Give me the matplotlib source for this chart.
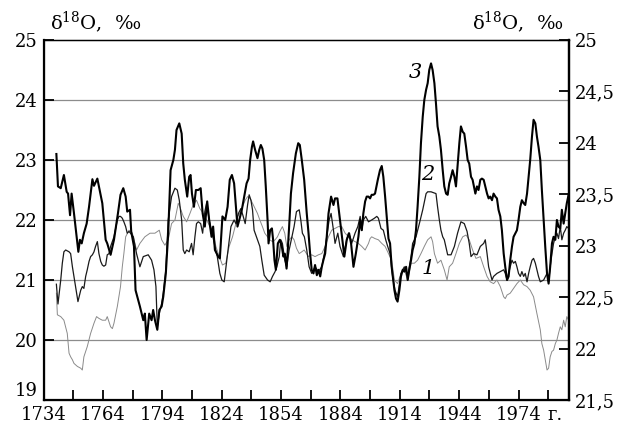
import matplotlib
matplotlib.use("Agg")
import matplotlib.pyplot as plt
from matplotlib.ticker import FixedLocator, FuncFormatter

# curve 3 (thick)
years3 = [1740.5, 1741.3, 1742.7, 1744.3, 1745.7, 1746.4, 1747.4, 1748.2, 1749.4, 1751.6,
          1752.4, 1753.3, 1754.4, 1755.8, 1757.0, 1758.7, 1759.5, 1761.2, 1762.0, 1763.7,
          1765.4, 1766.2, 1767.9, 1769.6, 1771.6, 1772.9, 1774.3, 1775.5, 1776.3, 1777.7,
          1778.3, 1779.7, 1780.5, 1782.7, 1784.4, 1785.2, 1786.1, 1787.4, 1788.6, 1789.4,
          1790.3, 1791.5, 1792.5, 1793.7, 1794.5, 1795.8, 1797.0, 1798.2, 1799.6, 1800.4,
          1801.2, 1802.6, 1803.8, 1804.6, 1805.4, 1806.6, 1807.6, 1808.3, 1809.0, 1810.0,
          1811.0, 1812.2, 1813.4, 1814.4, 1815.5, 1816.7, 1817.7, 1818.9, 1819.7, 1820.6,
          1822.3, 1823.1, 1824.4, 1825.8, 1827.0, 1828.1, 1829.2, 1830.3, 1831.2, 1832.0,
          1832.9, 1834.2, 1835.4, 1836.6, 1837.6, 1838.4, 1839.3, 1839.9, 1840.9, 1842.1,
          1843.0, 1843.8, 1844.6, 1845.5, 1846.3, 1847.2, 1847.7, 1848.5, 1849.4, 1850.0,
          1850.7, 1851.4, 1852.4, 1853.4, 1854.4, 1855.2, 1855.9, 1856.8, 1857.3, 1858.1,
          1859.0, 1860.1, 1861.5, 1862.7, 1863.5, 1864.5, 1865.7, 1867.0, 1867.9, 1868.7,
          1869.5, 1870.4, 1871.2, 1872.1, 1872.9, 1873.8, 1874.6, 1875.4, 1876.3, 1877.1,
          1878.0, 1879.3, 1880.5, 1881.3, 1882.5, 1883.8, 1885.0, 1886.0, 1887.2, 1888.4,
          1889.4, 1890.6, 1891.8, 1893.1, 1894.0, 1894.8, 1895.6, 1896.5, 1897.3, 1898.2,
          1899.0, 1899.8, 1900.7, 1901.5, 1902.9, 1904.0, 1904.9, 1905.7, 1906.6, 1907.4,
          1908.3, 1909.1, 1909.9, 1911.3, 1912.1, 1912.9, 1913.8, 1914.6, 1915.5, 1916.3,
          1917.2, 1918.0, 1918.8, 1919.7, 1920.5, 1921.4, 1922.2, 1923.0, 1923.9, 1924.7,
          1925.6, 1926.4, 1927.3, 1928.1, 1928.9, 1929.8, 1930.6, 1931.5, 1932.3, 1933.1,
          1934.0, 1934.8, 1935.7, 1936.5, 1937.4, 1938.2, 1939.0, 1939.9, 1940.7, 1941.6,
          1942.4, 1943.2, 1944.1, 1944.9, 1945.8, 1946.6, 1947.5, 1948.3, 1949.1, 1950.0,
          1950.8, 1952.2, 1953.0, 1953.8, 1954.7, 1955.5, 1956.4, 1957.2, 1958.1, 1958.9,
          1959.7, 1960.6, 1961.4, 1962.3, 1963.1, 1963.9, 1964.8, 1965.6, 1966.5, 1967.3,
          1968.2, 1969.0, 1969.8, 1970.7, 1971.5, 1972.4, 1973.2, 1974.0, 1974.9, 1975.7,
          1976.6, 1977.4, 1978.3, 1979.1, 1979.9, 1980.8, 1981.6, 1982.5, 1983.3, 1984.1,
          1985.0, 1985.8, 1986.7, 1987.5, 1988.4, 1989.2, 1990.0, 1990.9, 1991.7, 1992.6,
          1993.4, 1994.2, 1995.1, 1995.9, 1996.8, 1997.6, 1998.4, 1999.3]
vals3 = [23.10, 22.56, 22.53, 22.75, 22.47, 22.44, 22.08, 22.44, 22.11, 21.47,
         21.67, 21.61, 21.78, 21.94, 22.22, 22.68, 22.57, 22.69, 22.56, 22.28,
         21.67, 21.61, 21.42, 21.67, 22.11, 22.42, 22.53, 22.39, 22.14, 22.17,
         21.81, 21.56, 20.83, 20.56, 20.33, 20.44, 20.00, 20.44, 20.33, 20.50,
         20.33, 20.17, 20.50, 20.56, 20.72, 21.11, 21.78, 22.83, 23.00, 23.17,
         23.50, 23.61, 23.44, 22.94, 22.67, 22.39, 22.72, 22.75, 22.44, 22.22,
         22.50, 22.50, 22.53, 22.11, 21.89, 22.31, 22.00, 21.72, 21.89, 21.50,
         21.39, 21.36, 22.06, 22.00, 22.22, 22.67, 22.75, 22.61, 22.22, 21.89,
         22.00, 22.17, 22.39, 22.61, 22.69, 23.00, 23.22, 23.31, 23.17, 23.03,
         23.17, 23.25, 23.19, 23.00, 22.56, 22.00, 21.61, 21.83, 21.86, 21.67,
         21.33, 21.17, 21.61, 21.67, 21.56, 21.39, 21.44, 21.19, 21.44, 21.89,
         22.44, 22.78, 23.11, 23.28, 23.25, 23.00, 22.67, 22.11, 21.78, 21.44,
         21.17, 21.11, 21.25, 21.08, 21.17, 21.06, 21.22, 21.33, 21.44, 21.72,
         22.11, 22.39, 22.25, 22.36, 22.36, 22.00, 21.67, 21.39, 21.67, 21.78,
         21.61, 21.22, 21.44, 21.72, 22.00, 21.83, 22.11, 22.31, 22.39, 22.39,
         22.36, 22.42, 22.42, 22.44, 22.67, 22.83, 22.90, 22.72, 22.39, 22.06,
         21.69, 21.61, 21.22, 20.83, 20.69, 20.64, 20.83, 21.06, 21.17, 21.14,
         21.22, 21.00, 21.17, 21.33, 21.50, 21.61, 21.83, 22.22, 22.72, 23.28,
         23.72, 24.00, 24.17, 24.28, 24.50, 24.61, 24.50, 24.28, 23.94, 23.56,
         23.39, 23.17, 22.83, 22.56, 22.44, 22.42, 22.61, 22.72, 22.83, 22.72,
         22.56, 22.89, 23.28, 23.56, 23.47, 23.44, 23.22, 23.00, 22.94, 22.72,
         22.67, 22.44, 22.56, 22.50, 22.67, 22.69, 22.67, 22.56, 22.44, 22.36,
         22.39, 22.33, 22.44, 22.39, 22.36, 22.17, 22.06, 21.83, 21.44, 21.22,
         21.00, 21.06, 21.33, 21.56, 21.72, 21.78, 21.83, 22.00, 22.22, 22.33,
         22.28, 22.25, 22.44, 22.72, 23.00, 23.39, 23.67, 23.61, 23.39, 23.22,
         23.00, 22.50, 22.00, 21.56, 21.11, 20.94, 21.22, 21.61, 21.72, 21.67,
         22.00, 21.89, 21.86, 22.17, 21.94, 22.11, 22.28, 22.42]

# curve 2 (medium)
years2 = [1740.5, 1741.3, 1742.7, 1743.5, 1744.3, 1745.2, 1746.9, 1747.7, 1748.6, 1750.2,
          1751.4, 1752.8, 1753.6, 1754.4, 1755.3, 1756.1, 1757.0, 1757.8, 1758.7, 1759.5,
          1760.3, 1761.2, 1762.0, 1762.9, 1763.7, 1764.5, 1765.4, 1766.2, 1767.1, 1767.9,
          1769.6, 1771.3, 1772.1, 1772.9, 1773.8, 1774.6, 1775.5, 1776.3, 1777.2, 1779.4,
          1781.0, 1782.7, 1784.4, 1786.9, 1788.6, 1789.8, 1790.8, 1791.5, 1792.5, 1793.7,
          1794.5, 1795.8, 1797.0, 1798.7, 1800.4, 1801.6, 1802.6, 1803.8, 1804.6, 1805.4,
          1806.3, 1807.6, 1808.8, 1809.6, 1810.5, 1811.3, 1812.2, 1813.4, 1814.4, 1815.5,
          1816.4, 1817.7, 1818.9, 1820.6, 1821.8, 1823.1, 1824.1, 1825.3, 1827.0, 1828.7,
          1830.3, 1831.2, 1832.5, 1833.7, 1834.9, 1835.9, 1837.1, 1837.9, 1838.8, 1839.6,
          1840.4, 1842.1, 1843.3, 1844.3, 1845.5, 1847.2, 1848.5, 1849.7, 1851.0, 1851.9,
          1853.1, 1853.9, 1854.7, 1855.9, 1856.9, 1858.1, 1859.5, 1860.6, 1861.8, 1863.2,
          1864.0, 1864.8, 1865.8, 1867.0, 1868.2, 1869.5, 1871.2, 1872.9, 1874.6, 1875.9,
          1877.1, 1878.3, 1879.3, 1880.5, 1881.3, 1882.7, 1883.8, 1885.5, 1887.2, 1888.1,
          1888.9, 1889.7, 1891.4, 1892.8, 1894.0, 1894.8, 1895.6, 1896.8, 1898.2, 1899.8,
          1901.2, 1902.4, 1903.2, 1904.5, 1905.7, 1906.9, 1907.9, 1909.1, 1910.4, 1911.6,
          1912.9, 1914.6, 1916.3, 1918.0, 1919.7, 1920.5, 1922.2, 1923.9, 1925.6, 1927.3,
          1928.1, 1929.8, 1932.3, 1933.1, 1934.0, 1934.8, 1935.7, 1936.5, 1938.2, 1939.9,
          1941.6, 1943.2, 1944.9, 1946.6, 1948.0, 1949.1, 1950.0, 1951.3, 1953.0, 1954.7,
          1956.4, 1957.2, 1958.1, 1958.9, 1960.6, 1961.4, 1963.1, 1964.8, 1966.5, 1967.3,
          1968.2, 1969.0, 1969.8, 1970.7, 1971.5, 1972.4, 1973.2, 1974.0, 1974.9, 1975.7,
          1976.6, 1977.4, 1978.3, 1979.1, 1979.9, 1980.8, 1981.6, 1982.5, 1983.3, 1984.1,
          1985.0, 1986.7, 1988.4, 1989.2, 1990.0, 1990.9, 1991.7, 1992.6, 1993.4, 1994.2,
          1995.1, 1995.9, 1996.8, 1997.6, 1998.4, 1999.3]
vals2 = [20.93, 20.60, 21.00, 21.28, 21.47, 21.50, 21.47, 21.44, 21.22, 20.89,
         20.64, 20.83, 20.89, 20.86, 21.06, 21.17, 21.31, 21.39, 21.42, 21.47,
         21.56, 21.64, 21.44, 21.31, 21.25, 21.23, 21.25, 21.42, 21.44, 21.56,
         21.72, 22.00, 22.06, 22.06, 22.03, 21.97, 21.89, 21.78, 21.81, 21.72,
         21.44, 21.22, 21.39, 21.42, 21.33, 21.17, 20.89, 20.22, 20.44, 20.61,
         20.78, 21.17, 22.00, 22.39, 22.53, 22.50, 22.33, 22.00, 21.50, 21.44,
         21.50, 21.47, 21.61, 21.42, 21.72, 21.94, 21.97, 21.94, 21.78, 22.14,
         22.28, 22.00, 21.83, 21.56, 21.39, 21.11, 21.00, 20.97, 21.44, 21.89,
         22.00, 21.94, 22.11, 22.19, 22.06, 21.94, 22.25, 22.42, 22.33, 22.17,
         21.83, 21.67, 21.56, 21.33, 21.08, 21.00, 20.97, 21.06, 21.14, 21.22,
         21.39, 21.67, 21.61, 21.33, 21.22, 21.50, 21.72, 21.89, 22.14, 22.17,
         22.00, 21.78, 21.72, 21.50, 21.22, 21.11, 21.22, 21.14, 21.22, 21.44,
         21.72, 22.00, 22.11, 21.83, 21.61, 21.78, 21.56, 21.39, 21.67, 21.78,
         21.72, 21.61, 21.78, 21.89, 22.06, 21.83, 22.00, 22.06, 21.97, 22.00,
         22.03, 22.06, 22.03, 21.86, 21.83, 21.67, 21.56, 21.44, 21.06, 20.83,
         20.72, 21.11, 21.22, 21.06, 21.39, 21.61, 21.72, 21.94, 22.17, 22.44,
         22.47, 22.47, 22.44, 22.22, 22.00, 21.83, 21.72, 21.67, 21.42, 21.42,
         21.56, 21.78, 21.97, 21.94, 21.81, 21.61, 21.39, 21.44, 21.42, 21.56,
         21.61, 21.67, 21.44, 21.22, 21.00, 21.06, 21.11, 21.14, 21.17, 21.11,
         21.00, 21.11, 21.22, 21.33, 21.28, 21.31, 21.22, 21.11, 21.06, 21.14,
         21.06, 21.11, 20.97, 21.11, 21.22, 21.33, 21.36, 21.28, 21.17, 21.06,
         20.97, 21.00, 21.11, 20.97, 21.22, 21.44, 21.61, 21.72, 21.78, 21.69,
         21.89, 21.67, 21.78, 21.83, 21.89, 21.86]

# curve 1 (thin grey)
years1 = [1740.5, 1741.0, 1742.7, 1744.3, 1746.0, 1746.9, 1747.7, 1748.6, 1749.4, 1751.1,
          1752.8, 1753.6, 1754.4, 1756.1, 1757.8, 1759.5, 1760.8, 1762.0, 1763.7, 1765.4,
          1766.2, 1767.9, 1768.8, 1769.6, 1771.3, 1772.9, 1773.8, 1774.6, 1775.5, 1777.2,
          1778.9, 1781.0, 1782.7, 1785.2, 1787.8, 1790.3, 1792.5, 1793.7, 1795.3, 1797.0,
          1798.7, 1800.4, 1802.1, 1802.9, 1804.6, 1806.3, 1808.0, 1809.6, 1811.3, 1813.0,
          1814.7, 1816.4, 1818.1, 1819.7, 1821.1, 1822.3, 1824.4, 1826.1, 1827.8, 1829.5,
          1830.8, 1832.0, 1833.2, 1834.5, 1835.9, 1837.1, 1838.4, 1839.6, 1840.9, 1842.1,
          1843.3, 1844.6, 1845.8, 1847.2, 1848.3, 1849.7, 1851.0, 1852.2, 1853.4, 1854.7,
          1855.9, 1856.9, 1858.1, 1859.5, 1860.6, 1861.8, 1863.2, 1864.5, 1865.7, 1867.9,
          1869.5, 1871.2, 1872.9, 1874.6, 1876.3, 1878.0, 1879.6, 1881.3, 1883.0, 1884.7,
          1886.4, 1888.1, 1889.7, 1891.4, 1893.1, 1894.8, 1896.5, 1898.2, 1899.0, 1899.8,
          1901.5, 1903.2, 1904.9, 1906.6, 1908.3, 1909.9, 1911.3, 1912.9, 1914.6, 1916.3,
          1918.0, 1919.7, 1921.4, 1923.0, 1924.7, 1926.4, 1928.1, 1929.8, 1930.6, 1931.5,
          1933.1, 1934.8, 1936.5, 1937.9, 1939.0, 1940.7, 1942.4, 1944.1, 1945.8, 1947.5,
          1949.1, 1950.8, 1952.5, 1954.7, 1956.4, 1958.1, 1959.7, 1961.4, 1963.1, 1964.8,
          1966.5, 1967.3, 1968.2, 1969.8, 1971.5, 1973.2, 1974.9, 1976.6, 1978.3, 1979.9,
          1981.6, 1983.3, 1985.0, 1985.8, 1986.7, 1987.5, 1988.4, 1989.2, 1990.0, 1990.9,
          1991.7, 1992.6, 1993.4, 1994.2, 1995.1, 1995.9, 1996.8, 1997.6, 1998.4, 1999.3]
vals1 = [20.78, 20.42, 20.39, 20.33, 20.11, 19.78, 19.72, 19.67, 19.61, 19.56,
         19.53, 19.50, 19.72, 19.89, 20.11, 20.28, 20.39, 20.36, 20.33, 20.33,
         20.39, 20.22, 20.19, 20.28, 20.56, 20.89, 21.22, 21.44, 21.72, 21.83,
         21.78, 21.50, 21.61, 21.72, 21.78, 21.78, 21.83, 21.67, 21.58, 21.67,
         21.94, 22.00, 22.28, 22.22, 22.06, 21.97, 22.11, 22.25, 22.33, 22.19,
         22.11, 22.00, 21.89, 21.78, 21.56, 21.44, 21.25, 21.28, 21.56, 21.72,
         21.89, 22.06, 22.11, 22.22, 22.33, 22.39, 22.36, 22.28, 22.19, 22.11,
         22.00, 21.89, 21.78, 21.72, 21.67, 21.64, 21.67, 21.72, 21.81, 21.89,
         21.78, 21.56, 21.67, 21.72, 21.67, 21.53, 21.44, 21.47, 21.50, 21.39,
         21.42, 21.39, 21.42, 21.44, 21.56, 21.72, 21.83, 21.86, 21.89, 21.89,
         21.78, 21.72, 21.67, 21.64, 21.61, 21.56, 21.50, 21.61, 21.69, 21.72,
         21.69, 21.67, 21.61, 21.56, 21.44, 21.33, 21.00, 20.94, 21.11, 21.17,
         21.00, 21.28, 21.28, 21.33, 21.44, 21.56, 21.67, 21.72, 21.64, 21.44,
         21.28, 21.33, 21.17, 21.00, 21.22, 21.28, 21.44, 21.61, 21.72, 21.75,
         21.67, 21.50, 21.36, 21.39, 21.22, 21.06, 20.97, 20.94, 21.00, 20.89,
         20.72, 20.69, 20.75, 20.78, 20.86, 20.94, 21.00, 20.92, 20.89, 20.83,
         20.72, 20.44, 20.17, 19.94, 19.83, 19.67, 19.50, 19.53, 19.72, 19.81,
         19.83, 19.94, 20.00, 20.11, 20.22, 20.17, 20.33, 20.22, 20.39, 20.33]

left_ticks = [19, 20, 21, 22, 23, 24, 25]
right_ticks = [21.5, 22, 22.5, 23, 23.5, 24, 24.5, 25]
year_labels = [1734, 1764, 1794, 1824, 1854, 1884, 1914, 1944, 1974]
year_minor = [1749, 1779, 1809, 1839, 1869, 1899, 1929, 1959, 1989]
axis_label = r"δ$^{18}$O,  ‰"

plt.rcParams['font.family'] = ['DejaVu Serif']
plt.rcParams['mathtext.fontset'] = 'dejavuserif'

fig = plt.figure(figsize=(6.19, 4.25), dpi=100)
ax = fig.add_axes([0.0703, 0.0588, 0.8489, 0.8471])

ax.plot(years1, vals1, color='#8a8a8a', lw=0.7, zorder=3)
ax.plot(years2, vals2, color='#1a1a1a', lw=0.9, zorder=4)
ax.plot(years3, vals3, color='black', lw=1.5, zorder=5)

ax.set_xlim(1734, 1999.5)
ax.set_ylim(19, 25)
ax.yaxis.set_major_locator(FixedLocator(left_ticks))
ax.xaxis.set_major_locator(FixedLocator(year_labels))
ax.xaxis.set_minor_locator(FixedLocator(year_minor))
for v in left_ticks[1:-1]:
    ax.axhline(v, color='#8c8c8c', lw=0.9, zorder=1)

ax.tick_params(axis='both', which='both', direction='in', length=7, width=1.3,
               labelsize=13, pad=4, top=False)
ax.tick_params(axis='x', pad=4.5)
for s in ax.spines.values():
    s.set_color('black')
ax.spines['left'].set_linewidth(1.6)
ax.spines['bottom'].set_linewidth(1.6)
ax.spines['right'].set_linewidth(1.6)
ax.spines['top'].set_linewidth(1.0)

# lift the bottom "19" a little so it clears the year labels
ax.yaxis.get_major_ticks()[0].label1.set_verticalalignment('bottom')

ax2 = ax.twinx()
ax2.set_ylim(21.5, 25)
ax2.yaxis.set_major_locator(FixedLocator(right_ticks))
ax2.yaxis.set_major_formatter(FuncFormatter(lambda v, p: ('%g' % v).replace('.', ',')))
ax2.tick_params(axis='y', direction='in', length=7, width=1.3, labelsize=13, pad=4)
ax2.spines['right'].set_linewidth(1.6)

ax.text(0.012, 1.015, axis_label, transform=ax.transAxes, fontsize=14,
        ha='left', va='bottom')
ax.text(0.989, 1.015, axis_label, transform=ax.transAxes, fontsize=14,
        ha='right', va='bottom')
ax.text(1992.7, -0.018, "г.", transform=ax.get_xaxis_transform(), fontsize=13,
        ha='center', va='top')

ax.text(1922, 24.45, "3", fontsize=15, style='italic', ha='center', va='center')
ax.text(1928.1, 22.75, "2", fontsize=15, style='italic', ha='center', va='center')
ax.text(1928.1, 21.2, "1", fontsize=15, style='italic', ha='center', va='center')

fig.savefig("out.png", dpi=100)
